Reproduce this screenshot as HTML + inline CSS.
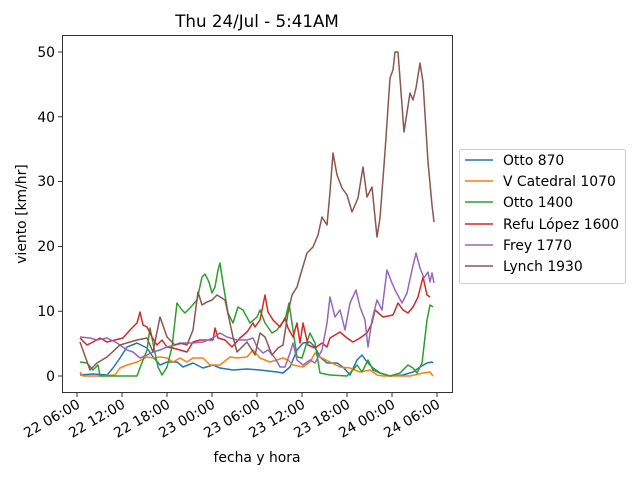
<!DOCTYPE html>
<html><head><meta charset="utf-8"><style>body{margin:0;background:#fff}svg{display:block}</style></head><body>
<svg width="640" height="480" xmlns="http://www.w3.org/2000/svg" font-family="DejaVu Sans, Liberation Sans, sans-serif" font-size="13.9">
<rect width="640" height="480" fill="#fff"/>
<text x="257" y="27" font-size="16.7" text-anchor="middle">Thu 24/Jul - 5:41AM</text>
<g fill="none" stroke-width="1.5" stroke-linejoin="round">
<polyline stroke="#1f77b4" points="80,375 93,374 107,375 113,368 120,358 127,347 137,343 147,348 153,357 160,365 167,362 177,362 183,367 193,363 203,368 213,365 220,368 233,370 247,369 260,370 277,372 283,373 290,367 297,350 303,343 310,342 315,347 320,357 327,363 337,363 343,367 350,375 357,360 362,355 367,362 373,368 380,373 390,376 403,375 413,372 420,367 427,363 432,362 433,363"/>
<polyline stroke="#ff7f0e" points="80,372 83,376 100,376 115,375 120,368 127,365 137,362 147,357 153,358 160,357 167,358 173,362 180,358 187,362 193,358 203,358 210,365 220,365 230,357 237,358 247,357 253,350 260,358 270,362 283,358 288,360 293,365 303,367 310,362 315,353 320,357 330,362 340,367 350,368 360,372 370,370 377,375 383,376 397,376 410,376 423,373 430,372 433,376"/>
<polyline stroke="#2ca02c" points="80,362 87,363 93,370 98,365 100,376 137,376 143,360 147,350 150,328 155,353 158,367 162,375 167,367 172,347 177,303 182,310 185,313 190,308 197,300 202,277 205,274 209,282 212,293 215,287 218,270 220,263 223,283 228,313 233,323 238,307 243,310 250,323 257,317 260,310 265,323 272,333 277,330 282,323 285,320 289,303 293,330 297,357 302,358 307,342 310,333 315,343 320,373 330,375 347,376 353,370 357,365 362,372 368,360 373,370 380,373 390,376 400,373 405,368 408,365 413,368 417,373 422,363 427,320 430,305 433,307"/>
<polyline stroke="#d62728" points="80,338 87,345 93,342 100,338 107,342 115,340 123,338 130,330 137,323 140,312 143,325 147,327 152,337 157,345 162,340 167,347 173,348 180,350 187,352 193,342 200,340 207,340 213,340 215,328 218,338 225,340 232,347 240,338 247,332 253,323 255,327 260,320 265,295 268,312 273,320 280,327 285,318 288,328 293,337 297,323 300,343 303,323 308,345 315,348 322,343 327,347 330,338 335,335 340,332 347,338 353,342 360,338 367,333 372,323 375,310 383,317 393,315 398,303 403,310 408,313 413,307 418,297 423,277 427,295 430,297"/>
<polyline stroke="#9467bd" points="80,337 90,338 97,340 107,338 117,343 127,350 133,352 140,358 147,355 153,352 160,350 167,347 175,345 183,343 193,343 203,342 213,338 220,333 227,337 237,340 247,340 253,338 257,347 263,353 268,350 275,358 280,367 285,367 290,353 293,343 297,360 303,365 310,360 315,363 322,350 327,323 330,297 335,317 340,310 345,330 350,303 356,290 360,307 365,320 368,347 372,320 377,300 382,310 387,270 392,283 395,290 402,303 407,293 412,270 416,253 420,268 424,278 428,272 430,282 432,273 434,283"/>
<polyline stroke="#8c564b" points="80,342 90,370 97,363 107,357 120,345 137,340 147,338 153,352 160,317 167,337 175,345 180,343 187,345 193,330 198,292 202,305 207,302 212,300 217,295 225,300 233,337 237,352 247,342 255,355 260,333 265,337 272,355 278,348 283,345 288,313 292,295 297,287 301,273 307,253 313,247 318,235 322,217 327,225 330,192 333,153 337,175 342,188 347,195 352,212 358,198 363,167 367,197 372,187 377,237 380,218 385,152 390,78 393,70 395,52 398,52 404,132 410,93 413,100 416,88 420,63 423,82 428,162 432,205 434,222"/>
</g>
<rect x="62.5" y="35.5" width="390" height="357" fill="none" stroke="#000" stroke-width="0.8"/>
<g stroke="#000" stroke-width="0.8">
<line x1="58" y1="376" x2="62" y2="376"/><line x1="58" y1="311.2" x2="62" y2="311.2"/><line x1="58" y1="246.4" x2="62" y2="246.4"/><line x1="58" y1="181.6" x2="62" y2="181.6"/><line x1="58" y1="116.8" x2="62" y2="116.8"/><line x1="58" y1="52" x2="62" y2="52"/>
<line x1="77" y1="393" x2="77" y2="397"/><line x1="122" y1="393" x2="122" y2="397"/><line x1="167" y1="393" x2="167" y2="397"/><line x1="212" y1="393" x2="212" y2="397"/><line x1="257" y1="393" x2="257" y2="397"/><line x1="302" y1="393" x2="302" y2="397"/><line x1="347" y1="393" x2="347" y2="397"/><line x1="392" y1="393" x2="392" y2="397"/><line x1="437" y1="393" x2="437" y2="397"/>
</g>
<g text-anchor="end">
<text x="55" y="381">0</text><text x="55" y="316">10</text><text x="55" y="251">20</text><text x="55" y="186">30</text><text x="55" y="122">40</text><text x="55" y="57">50</text>
</g>
<g text-anchor="end">
<text transform="translate(81,407) rotate(-30)">22 06:00</text>
<text transform="translate(126,407) rotate(-30)">22 12:00</text>
<text transform="translate(171,407) rotate(-30)">22 18:00</text>
<text transform="translate(216,407) rotate(-30)">23 00:00</text>
<text transform="translate(261,407) rotate(-30)">23 06:00</text>
<text transform="translate(306,407) rotate(-30)">23 12:00</text>
<text transform="translate(351,407) rotate(-30)">23 18:00</text>
<text transform="translate(396,407) rotate(-30)">24 00:00</text>
<text transform="translate(441,407) rotate(-30)">24 06:00</text>
</g>
<text x="257" y="462" text-anchor="middle">fecha y hora</text>
<text transform="translate(26,214) rotate(-90)" text-anchor="middle">viento [km/hr]</text>
<rect x="459.5" y="149.5" width="166" height="134" rx="2" fill="#fff" stroke="#ccc"/>
<g stroke-width="1.5">
<line x1="465" y1="160" x2="493" y2="160" stroke="#1f77b4"/>
<line x1="465" y1="181" x2="493" y2="181" stroke="#ff7f0e"/>
<line x1="465" y1="202" x2="493" y2="202" stroke="#2ca02c"/>
<line x1="465" y1="224" x2="493" y2="224" stroke="#d62728"/>
<line x1="465" y1="245" x2="493" y2="245" stroke="#9467bd"/>
<line x1="465" y1="266" x2="493" y2="266" stroke="#8c564b"/>
</g>
<g>
<text x="503" y="165">Otto 870</text>
<text x="503" y="186">V Catedral 1070</text>
<text x="503" y="207">Otto 1400</text>
<text x="503" y="229">Refu López 1600</text>
<text x="503" y="250">Frey 1770</text>
<text x="503" y="271">Lynch 1930</text>
</g>
</svg>
</body></html>
